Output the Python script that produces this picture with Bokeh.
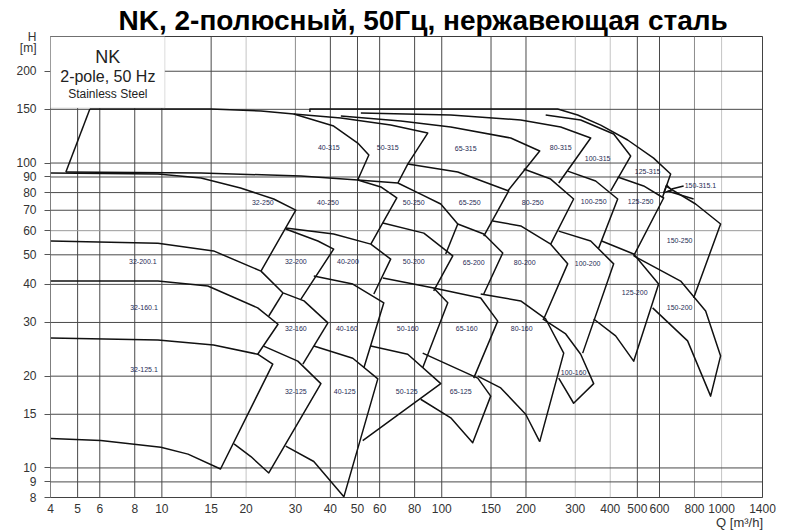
from bokeh.plotting import figure
from bokeh.models import (Range1d, FixedTicker, PrintfTickFormatter, Label, BoxAnnotation,
                          LogAxis)
from bokeh.embed import file_html
from bokeh.resources import INLINE

TITLE = "NK, 2-полюсный, 50Гц, нержавеющая сталь"
Q_TICKS = [4, 5, 6, 8, 10, 15, 20, 30, 40, 50, 60, 80, 100, 150, 200, 300, 400, 500, 600, 800, 1000, 1400]
H_TICKS = [8, 9, 10, 15, 20, 30, 40, 50, 60, 70, 80, 90, 100, 150, 200]
H_NAME, H_NAME_AT = "H", 260
H_UNIT, H_UNIT_AT = "[m]", 238.2
Q_NAME, Q_NAME_AT = "Q [m³/h]", 1159

# pump range outlines (Q in m3/h, H in m), one polyline per list entry
S315_Q = [
    [4.54, 5.53],
    [5.53, 14.96, 22.6, 29.6, 41.1, 50.1, 54.9, 50.1],
    [29.6, 43.6, 65.7, 89.1, 75.6, 69.7],
    [43.6, 71.4, 107.7, 176.4, 223.9, 172.1],
    [33.8, 33.8, 259.6, 306.0, 369.8, 461.7, 571.6, 657.5, 615.6],
    [51.4, 107.7, 191.5, 266.1, 340.6, 261.8],
    [235.2, 313.7, 411.5, 473.2, 401.5],
]
S315_H = [
    [93.4, 150.3],
    [150.3, 150.3, 148.1, 144.8, 132.2, 116.3, 106.2, 88.0],
    [144.8, 140.4, 133.2, 125.4, 99.2, 86.0],
    [142.6, 137.3, 131.2, 120.8, 109.5, 81.0],
    [147.0, 150.3, 150.3, 143.7, 133.2, 119.0, 103.8, 92.0, 77.4],
    [145.9, 143.7, 138.4, 131.2, 120.8, 86.0],
    [143.7, 138.4, 124.5, 105.4, 81.0],
]

S250_Q = [
    [4.01, 9.68, 13.8, 19.1, 25.1, 30.1, 22.6],
    [4.54, 13.8, 31.4, 50.1, 69.7, 84.1, 99.2, 114.1],
    [50.1, 60.6, 69.1, 55.8],
    [114.1, 103.3],
    [75.6, 114.1, 173.5, 141.3],
    [196.3, 245.1, 296.0, 245.1],
    [281.8, 354.8, 425.3, 363.7],
    [425.3, 526.5, 620.7, 485.1],
    [631.0, 807.5, 991.8, 794.3],
    [620.7, 636.2, 662.9, 620.7],
    [662.9, 731.7],
    [641.4, 794.3],
]
S250_H = [
    [92.7, 92.0, 89.3, 82.8, 76.2, 70.1, 44.2],
    [93.4, 92.7, 90.7, 88.0, 86.0, 79.1, 73.4, 63.1],
    [88.0, 83.5, 76.8, 54.2],
    [63.1, 50.3],
    [99.2, 93.4, 81.0, 57.6],
    [95.6, 88.6, 76.2, 54.2],
    [94.1, 87.3, 76.2, 52.6],
    [90.0, 84.1, 76.8, 49.6],
    [84.1, 73.4, 63.1, 36.1],
    [79.8, 84.7, 81.6, 79.8],
    [82.2, 84.1],
    [81.0, 76.2],
]

S200_Q = [
    [4.01, 9.68, 15.3, 22.6, 27.1, 32.2, 39.2],
    [27.7, 36.1, 41.1, 31.4],
    [27.7, 41.1, 55.8, 65.7, 57.2],
    [61.6, 86.3, 109.5, 93.6],
    [114.1, 141.3, 165.2, 141.3],
    [152.1, 191.5, 245.1, 281.8, 231.4],
    [261.8, 340.6, 411.5, 318.9],
    [372.8, 485.1, 595.7, 485.1, 418.2, 349.1],
    [485.1, 713.9, 877.0, 991.8, 913.6, 755.9, 567.0],
]
S200_H = [
    [55.5, 54.6, 51.5, 44.2, 37.5, 35.3, 29.9],
    [60.8, 55.5, 52.2, 35.8],
    [61.2, 58.5, 54.2, 48.4, 37.2],
    [63.6, 58.9, 49.6, 38.1],
    [63.1, 58.5, 50.7, 37.2],
    [64.5, 62.2, 54.2, 46.7, 30.8],
    [59.8, 55.5, 46.7, 23.8],
    [55.5, 50.3, 40.1, 22.4, 27.1, 30.8],
    [49.6, 41.0, 32.7, 23.3, 17.2, 26.1, 33.5],
]

S160_Q = [
    [4.01, 9.68, 14.6, 22.0, 26.0, 22.0],
    [27.1, 24.1],
    [39.2, 31.9],
    [34.9, 48.1, 62.1, 52.7],
    [61.6, 93.6, 105.1, 85.5],
    [93.6, 137.8, 158.5, 130.1],
    [137.8, 191.5, 235.2, 272.8, 223.9],
    [134.5, 162.5, 199.5, 223.9],
    [229.5, 277.3, 313.7, 349.1, 296.0, 261.8],
]
S160_H = [
    [41.0, 41.0, 39.5, 33.5, 29.6, 23.6],
    [37.5, 31.5],
    [29.9, 21.9],
    [42.6, 40.1, 34.8, 21.3],
    [42.0, 38.9, 34.8, 21.3],
    [38.9, 36.1, 30.3, 19.7],
    [37.2, 35.3, 30.8, 23.8, 12.2],
    [20.0, 18.3, 15.0, 12.2],
    [30.8, 27.5, 23.6, 18.9, 16.3, 19.7],
]

S125_Q = [
    [4.01, 9.68, 15.3, 22.0, 24.9, 16.2, 12.4, 9.92, 6.05, 4.01],
    [23.1, 30.6, 37.0, 24.1, 20.8, 18.1],
    [34.9, 48.1, 59.1, 44.7, 34.9, 27.7],
    [55.8, 75.6, 99.2, 52.2],
    [85.5, 134.5, 149.6, 129.0, 107.7, 84.1],
]
S125_H = [
    [26.7, 26.3, 25.3, 23.6, 21.9, 9.92, 11.1, 11.7, 12.3, 12.5],
    [25.1, 22.4, 18.9, 9.63, 10.9, 12.0],
    [25.1, 22.9, 19.6, 8.04, 10.5, 11.8],
    [25.1, 23.6, 18.9, 12.3],
    [23.8, 19.7, 17.2, 12.1, 14.6, 16.8],
]

PUMP_NAMES = ["40-315", "50-315", "65-315", "80-315", "100-315", "125-315",
              "32-250", "40-250", "50-250", "65-250", "80-250", "100-250", "125-250", "150-250",
              "32-200.1", "32-200", "40-200", "50-200", "65-200", "80-200", "100-200", "125-200", "150-200",
              "32-160.1", "32-160", "40-160", "50-160", "65-160", "80-160", "100-160",
              "32-125.1", "32-125", "40-125", "50-125", "65-125"]
NAME_Q = [39.5, 64.1, 121.8, 266.1, 360.7, 544.1,
          22.95, 39.2, 79.4, 125.9, 211.3, 349.1, 513.6, 707.9,
          8.55, 30.1, 46.2, 79.4, 130.1, 197.9, 332.2, 489.2, 707.9,
          8.63, 30.1, 45.8, 75.6, 122.8, 193.1, 296.0,
          8.63, 30.1, 45.0, 75.0, 116.9]
NAME_H = [112.8, 112.8, 112.0, 112.8, 103.8, 94.1,
          74.0, 74.5, 74.0, 74.5, 74.5, 75.0, 75.0, 55.9,
          47.7, 47.7, 47.7, 47.7, 47.3, 47.3, 47.0, 37.5, 33.5,
          33.5, 28.6, 28.6, 28.6, 28.6, 28.6, 20.6,
          21.0, 17.8, 17.8, 17.8, 17.8]
SMALL_NAME = "150-315.1"
SMALL_Q, SMALL_H = 737.9, 84.1

FONT = "Liberation Sans"

p = figure(width=800, height=532, x_axis_type="log", y_axis_type="log",
           x_range=Range1d(4, 1400), y_range=Range1d(8, 260),
           output_backend="svg", toolbar_location=None, title=TITLE,
           min_border_left=50, min_border_right=38, min_border_top=36, min_border_bottom=35)
p.background_fill_color = "white"
p.border_fill_color = "white"
p.outline_line_color = "#3a3a3a"
p.xgrid.visible = False
p.ygrid.visible = False

p.title.text_font = FONT
p.title.text_font_size = "28px"
p.title.text_font_style = "bold"
p.title.text_color = "#000000"
p.title.align = "left"
p.title.offset = 68
p.title.standoff = 2

# grid lines
vcol = []
for t in Q_TICKS:
    if t in (4, 20, 300, 400, 1000):
        vcol.append("#c4c4c4")
    elif t in (30, 800):
        vcol.append("#8c8c8c")
    else:
        vcol.append("#4a4a4a")
p.segment(x0=Q_TICKS, y0=8, x1=Q_TICKS, y1=260, line_color=vcol, line_width=1)
hcol = ["#9a9a9a" if t == 60 else "#4a4a4a" for t in H_TICKS]
p.segment(x0=4, y0=H_TICKS, x1=1400, y1=H_TICKS, line_color=hcol, line_width=1)

# pump outlines
for qs, hs in [(S315_Q, S315_H), (S250_Q, S250_H), (S200_Q, S200_H), (S160_Q, S160_H), (S125_Q, S125_H)]:
    p.multi_line(xs=qs, ys=hs, line_color="#111111", line_width=1.5, line_join="round")

p.text(x=NAME_Q, y=NAME_H, text=PUMP_NAMES, text_font_size="7px", text_color="#1f2b55",
       text_align="center", text_baseline="middle", text_font={"value": FONT})
p.text(x=[SMALL_Q], y=[SMALL_H], text=[SMALL_NAME], text_font_size="7px", text_color="#1f2b55",
       text_align="left", text_baseline="middle", text_font={"value": FONT})

# axes
xa = p.xaxis[0]
ya = p.yaxis[0]
xa.ticker = FixedTicker(ticks=Q_TICKS)
ya.ticker = FixedTicker(ticks=H_TICKS + [H_UNIT_AT, H_NAME_AT], minor_ticks=H_TICKS)
xa.formatter = PrintfTickFormatter(format="%d")
ya.formatter = PrintfTickFormatter(format="%d")
ya.major_label_overrides = {H_UNIT_AT: H_UNIT, H_NAME_AT: H_NAME}
for ax in (xa, ya):
    ax.axis_line_color = None
    ax.major_label_text_font = FONT
    ax.major_label_text_font_size = "12px"
    ax.major_label_text_color = "#333333"
xa.major_tick_line_color = None
xa.minor_tick_line_color = None
xa.major_label_standoff = 0
ya.major_tick_line_color = None
ya.major_tick_in = 0
ya.major_tick_out = 0
ya.minor_tick_in = 0
ya.minor_tick_out = 6
ya.minor_tick_line_color = "#555555"
ya.major_label_standoff = 8

qax = LogAxis(ticker=FixedTicker(ticks=[Q_NAME_AT]), major_label_overrides={Q_NAME_AT: Q_NAME},
              axis_line_color=None, major_tick_line_color=None, minor_tick_line_color=None,
              major_label_standoff=-7, major_label_text_font=FONT,
              major_label_text_font_size="13px", major_label_text_color="#333333")
p.add_layout(qax, "below")

# legend box
p.add_layout(BoxAnnotation(left=4, right=10.25, top=260, bottom=151.4, fill_color="white",
                           fill_alpha=1.0, line_color="#8a8a8a", line_width=1))
p.add_layout(Label(x=6.41, y=222.6, text="NK", text_font=FONT, text_font_size="18px",
                   text_color="#222222", text_align="center", text_baseline="middle"))
p.add_layout(Label(x=6.41, y=192.8, text="2-pole, 50 Hz", text_font=FONT, text_font_size="16px",
                   text_color="#222222", text_align="center", text_baseline="middle"))
p.add_layout(Label(x=6.41, y=168.4, text="Stainless Steel", text_font=FONT, text_font_size="12px",
                   text_color="#222222", text_align="center", text_baseline="middle"))

open("out.html", "w").write(file_html(p, INLINE))
